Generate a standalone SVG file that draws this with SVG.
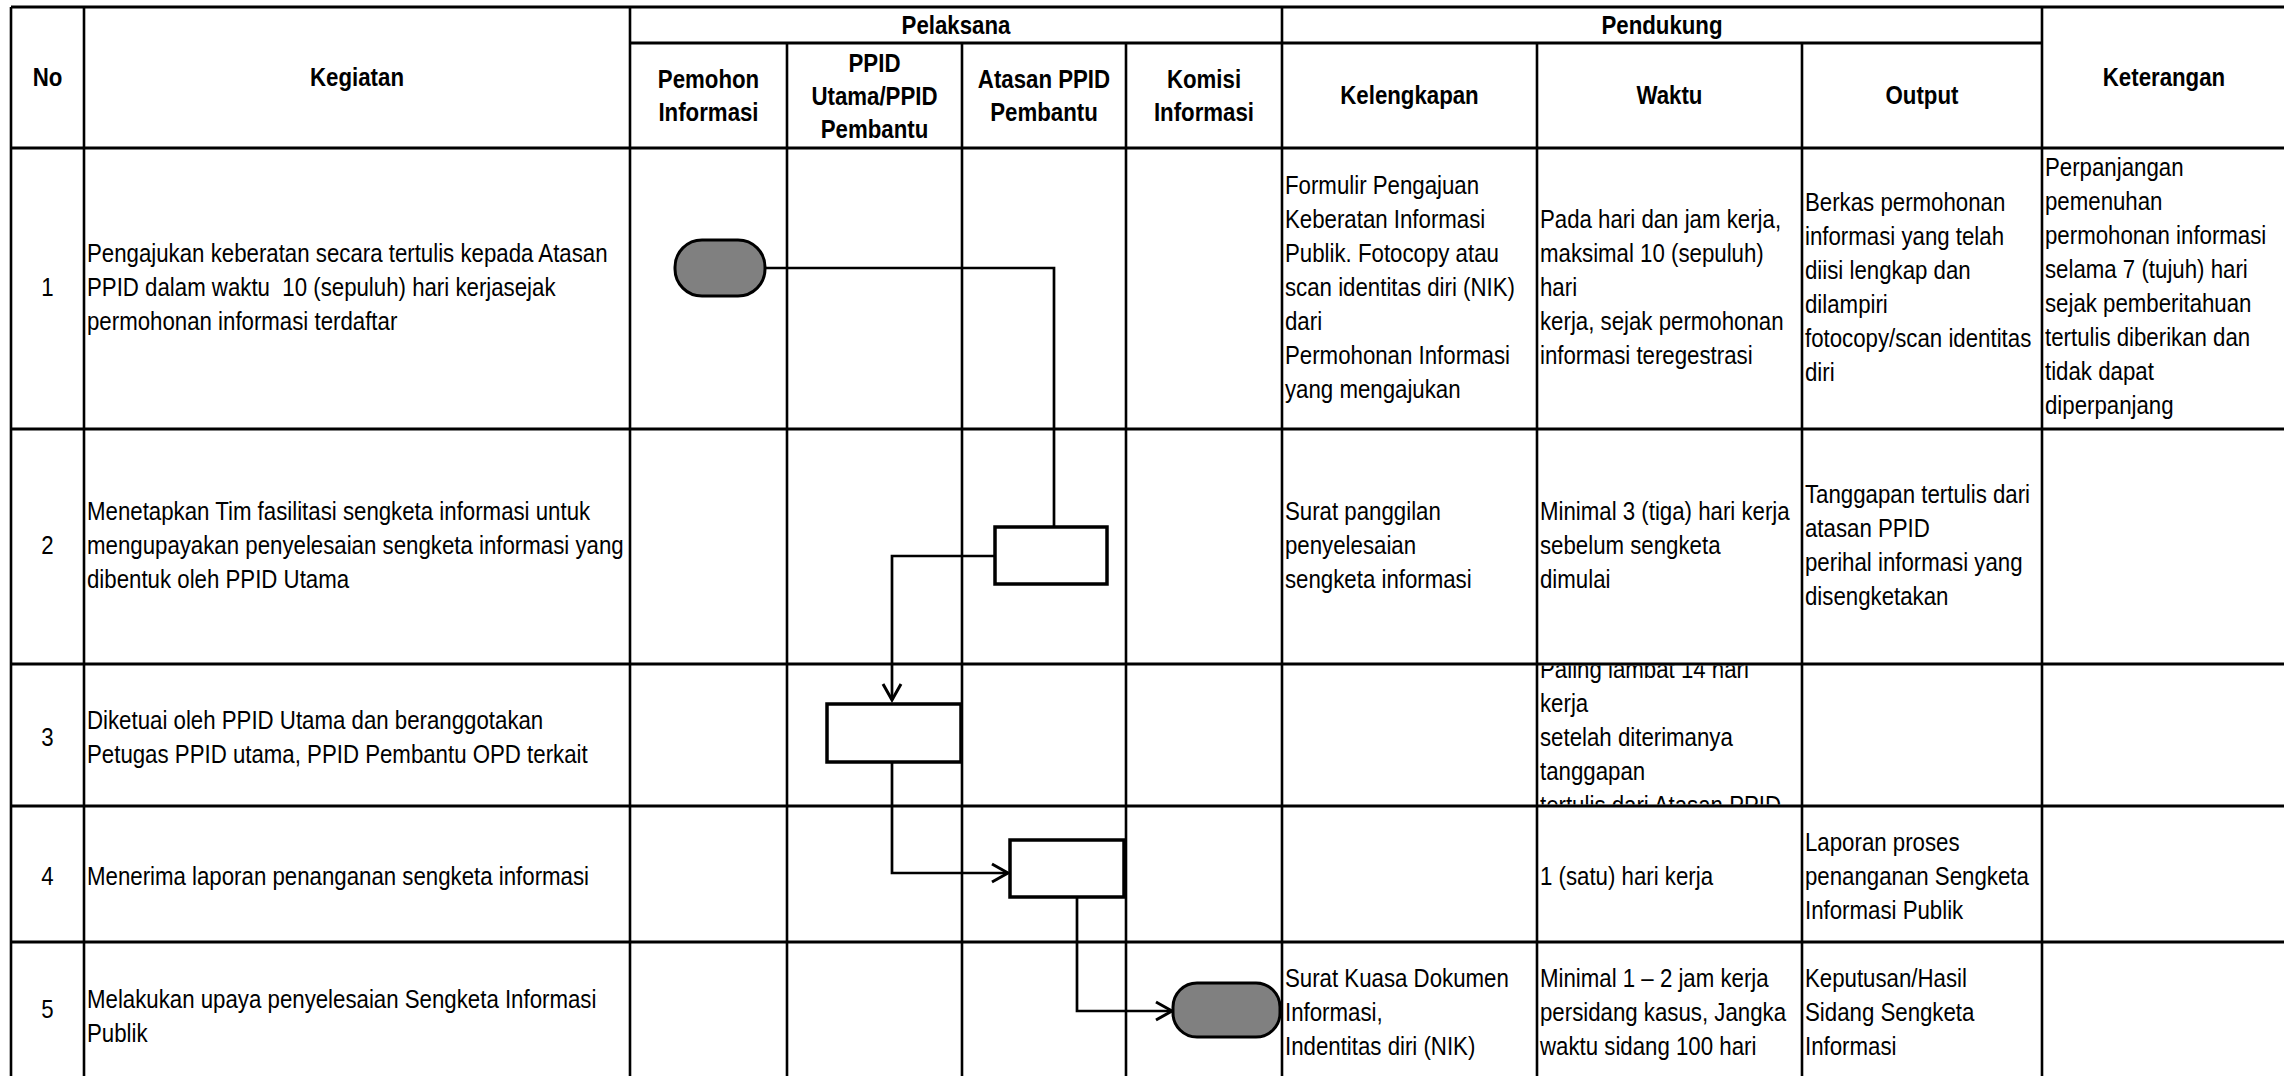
<svg xmlns="http://www.w3.org/2000/svg" width="2284" height="1076" viewBox="0 0 2284 1076">
<style>
.t{font-family:"Liberation Sans",Arial,sans-serif;font-size:25px;fill:#000;white-space:pre}
.h{font-weight:bold;text-anchor:middle}
.c{text-anchor:middle}
.hl{stroke:#000;stroke-width:3;fill:none}
.vl{stroke:#000;stroke-width:2.6;fill:none}
.box{fill:#fff;stroke:#000;stroke-width:3.5}
.term{fill:#808080;stroke:#000;stroke-width:3}
.conn{fill:none;stroke:#000;stroke-width:2.7}
</style>
<defs>
<marker id="arr" markerUnits="userSpaceOnUse" viewBox="-3 -12 22 24" markerWidth="22" markerHeight="24" refX="16" refY="0" orient="auto">
<path d="M0,-9 L16,0 L0,9" fill="none" stroke="#000" stroke-width="3"/>
</marker>
<clipPath id="clipW3"><rect x="1538" y="665.5" width="263" height="139"/></clipPath>
</defs>
<rect width="2284" height="1076" fill="#fff"/>

<g id="grid">
<line class="hl" x1="11" y1="7" x2="2284" y2="7"/>
<line class="hl" x1="630" y1="43" x2="2042" y2="43"/>
<line class="hl" x1="11" y1="148" x2="2284" y2="148"/>
<line class="hl" x1="11" y1="429" x2="2284" y2="429"/>
<line class="hl" x1="11" y1="664" x2="2284" y2="664"/>
<line class="hl" x1="11" y1="806" x2="2284" y2="806"/>
<line class="hl" x1="11" y1="942" x2="2284" y2="942"/>
<line class="vl" x1="11" y1="7" x2="11" y2="1076"/>
<line class="vl" x1="84" y1="7" x2="84" y2="1076"/>
<line class="vl" x1="630" y1="7" x2="630" y2="1076"/>
<line class="vl" x1="787" y1="43" x2="787" y2="1076"/>
<line class="vl" x1="962" y1="43" x2="962" y2="1076"/>
<line class="vl" x1="1126" y1="43" x2="1126" y2="1076"/>
<line class="vl" x1="1282" y1="7" x2="1282" y2="1076"/>
<line class="vl" x1="1537" y1="43" x2="1537" y2="1076"/>
<line class="vl" x1="1802" y1="43" x2="1802" y2="1076"/>
<line class="vl" x1="2042" y1="7" x2="2042" y2="1076"/>
</g>

<g id="header" transform="scale(0.89,1)">
<text class="t h" x="53.371" y="86">No</text>
<text class="t h" x="401.124" y="86">Kegiatan</text>
<text class="t h" x="1074.157" y="34">Pelaksana</text>
<text class="t h" x="1867.416" y="34">Pendukung</text>
<text class="t h" x="796.067" y="88">Pemohon<tspan x="796.067" dy="33">Informasi</tspan></text>
<text class="t h" x="982.584" y="72">PPID<tspan x="982.584" dy="33">Utama/PPID</tspan><tspan x="982.584" dy="33">Pembantu</tspan></text>
<text class="t h" x="1173.034" y="88">Atasan PPID<tspan x="1173.034" dy="33">Pembantu</tspan></text>
<text class="t h" x="1352.809" y="88">Komisi<tspan x="1352.809" dy="33">Informasi</tspan></text>
<text class="t h" x="1583.708" y="104">Kelengkapan</text>
<text class="t h" x="1875.843" y="104">Waktu</text>
<text class="t h" x="2159.551" y="104">Output</text>
<text class="t h" x="2431.461" y="86">Keterangan</text>
</g>

<g id="row1" transform="scale(0.89,1)">
<text class="t c" x="53.371" y="296">1</text>
<text class="t" x="97.753" y="262">Pengajukan keberatan secara tertulis kepada Atasan<tspan x="97.753" dy="34">PPID dalam waktu  10 (sepuluh) hari kerjasejak</tspan><tspan x="97.753" dy="34">permohonan informasi terdaftar</tspan></text>
<text class="t" x="1443.820" y="194">Formulir Pengajuan<tspan x="1443.820" dy="34">Keberatan Informasi</tspan><tspan x="1443.820" dy="34">Publik. Fotocopy atau</tspan><tspan x="1443.820" dy="34">scan identitas diri (NIK)</tspan><tspan x="1443.820" dy="34">dari</tspan><tspan x="1443.820" dy="34">Permohonan Informasi</tspan><tspan x="1443.820" dy="34">yang mengajukan</tspan></text>
<text class="t" x="1730.337" y="228">Pada hari dan jam kerja,<tspan x="1730.337" dy="34">maksimal 10 (sepuluh)</tspan><tspan x="1730.337" dy="34">hari</tspan><tspan x="1730.337" dy="34">kerja, sejak permohonan</tspan><tspan x="1730.337" dy="34">informasi teregestrasi</tspan></text>
<text class="t" x="2028.090" y="211">Berkas permohonan<tspan x="2028.090" dy="34">informasi yang telah</tspan><tspan x="2028.090" dy="34">diisi lengkap dan</tspan><tspan x="2028.090" dy="34">dilampiri</tspan><tspan x="2028.090" dy="34">fotocopy/scan identitas</tspan><tspan x="2028.090" dy="34">diri</tspan></text>
<text class="t" x="2297.753" y="176">Perpanjangan<tspan x="2297.753" dy="34">pemenuhan</tspan><tspan x="2297.753" dy="34">permohonan informasi</tspan><tspan x="2297.753" dy="34">selama 7 (tujuh) hari</tspan><tspan x="2297.753" dy="34">sejak pemberitahuan</tspan><tspan x="2297.753" dy="34">tertulis diberikan dan</tspan><tspan x="2297.753" dy="34">tidak dapat</tspan><tspan x="2297.753" dy="34">diperpanjang</tspan></text>
</g>

<g id="row2" transform="scale(0.89,1)">
<text class="t c" x="53.371" y="554">2</text>
<text class="t" x="97.753" y="520">Menetapkan Tim fasilitasi sengketa informasi untuk<tspan x="97.753" dy="34">mengupayakan penyelesaian sengketa informasi yang</tspan><tspan x="97.753" dy="34">dibentuk oleh PPID Utama</tspan></text>
<text class="t" x="1443.820" y="520">Surat panggilan<tspan x="1443.820" dy="34">penyelesaian</tspan><tspan x="1443.820" dy="34">sengketa informasi</tspan></text>
<text class="t" x="1730.337" y="520">Minimal 3 (tiga) hari kerja<tspan x="1730.337" dy="34">sebelum sengketa</tspan><tspan x="1730.337" dy="34">dimulai</tspan></text>
<text class="t" x="2028.090" y="503">Tanggapan tertulis dari<tspan x="2028.090" dy="34">atasan PPID</tspan><tspan x="2028.090" dy="34">perihal informasi yang</tspan><tspan x="2028.090" dy="34">disengketakan</tspan></text>
</g>

<g id="row3">
<g transform="scale(0.89,1)">
<text class="t c" x="53.371" y="746">3</text>
<text class="t" x="97.753" y="729">Diketuai oleh PPID Utama dan beranggotakan<tspan x="97.753" dy="34">Petugas PPID utama, PPID Pembantu OPD terkait</tspan></text>
</g>
<g clip-path="url(#clipW3)">
<g transform="scale(0.89,1)">
<text class="t" x="1730.337" y="678">Paling lambat 14 hari<tspan x="1730.337" dy="34">kerja</tspan><tspan x="1730.337" dy="34">setelah diterimanya</tspan><tspan x="1730.337" dy="34">tanggapan</tspan><tspan x="1730.337" dy="34">tertulis dari Atasan PPID</tspan></text>
</g>
</g>
</g>

<g id="row4" transform="scale(0.89,1)">
<text class="t c" x="53.371" y="885">4</text>
<text class="t" x="97.753" y="885">Menerima laporan penanganan sengketa informasi</text>
<text class="t" x="1730.337" y="885">1 (satu) hari kerja</text>
<text class="t" x="2028.090" y="851">Laporan proses<tspan x="2028.090" dy="34">penanganan Sengketa</tspan><tspan x="2028.090" dy="34">Informasi Publik</tspan></text>
</g>

<g id="row5" transform="scale(0.89,1)">
<text class="t c" x="53.371" y="1018">5</text>
<text class="t" x="97.753" y="1008">Melakukan upaya penyelesaian Sengketa Informasi<tspan x="97.753" dy="34">Publik</tspan></text>
<text class="t" x="1443.820" y="987">Surat Kuasa Dokumen<tspan x="1443.820" dy="34">Informasi,</tspan><tspan x="1443.820" dy="34">Indentitas diri (NIK)</tspan></text>
<text class="t" x="1730.337" y="987">Minimal 1 – 2 jam kerja<tspan x="1730.337" dy="34">persidang kasus, Jangka</tspan><tspan x="1730.337" dy="34">waktu sidang 100 hari</tspan></text>
<text class="t" x="2028.090" y="987">Keputusan/Hasil<tspan x="2028.090" dy="34">Sidang Sengketa</tspan><tspan x="2028.090" dy="34">Informasi</tspan></text>
</g>

<g id="connectors">
<polyline class="conn" points="765,268 1054,268 1054,527"/>
<polyline class="conn" points="995,556 892,556 892,700" marker-end="url(#arr)"/>
<polyline class="conn" points="892,762 892,873 1008,873" marker-end="url(#arr)"/>
<polyline class="conn" points="1077,897 1077,1011 1172,1011" marker-end="url(#arr)"/>
</g>

<g id="start"><rect class="term" x="675" y="240" width="90" height="56" rx="27" ry="27"/></g>
<g id="step2"><rect class="box" x="995" y="527" width="112" height="57"/></g>
<g id="step3"><rect class="box" x="827" y="704" width="134" height="58"/></g>
<g id="step4"><rect class="box" x="1010" y="840" width="114" height="57"/></g>
<g id="end"><rect class="term" x="1173" y="983" width="107" height="54" rx="24" ry="24"/></g>
</svg>
